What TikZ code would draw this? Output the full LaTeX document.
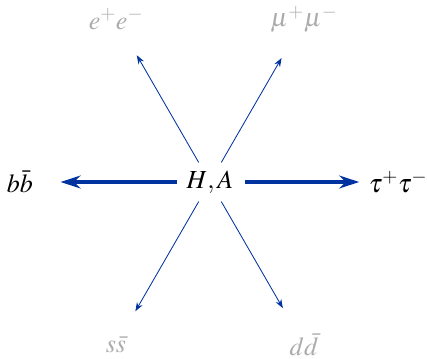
\documentclass[tikz,border=0pt]{standalone}
\usepackage{amsmath}
\usepackage{mathptmx}
\usepackage{tikz}
\usetikzlibrary{arrows.meta}

\definecolor{chanblue}{RGB}{0,51,160}
\definecolor{fadegray}{RGB}{172,172,172}

\begin{document}
\begin{tikzpicture}[
  x=0.025cm, y=0.025cm,
  lbl/.style={font=\fontsize{18.5}{22}\selectfont, inner sep=0pt},
  weak/.style={lbl, text=fadegray},
  bigarr/.style={-{Stealth[length=5mm, width=3.2mm]}, line width=3pt, draw=chanblue},
  smallarr/.style={-{Stealth[length=2.2mm, width=1.6mm]}, line width=0.6pt, draw=chanblue}
]
  \useasboundingbox (-210,-176) rectangle (217,182);
  \node[lbl] (ha) at (0,0) {$H,A$};
  \node[lbl] (bb) at (180:190) {$b\bar{b}$};
  \node[lbl] (tautau) at (0:188) {$\boldsymbol{\tau}^{\boldsymbol{+}}\boldsymbol{\tau}^{\boldsymbol{-}}$};
  \node[weak] (ee) at (120:188) {$e^+e^-$};
  \node[weak] (mumu) at (60:188) {$\mu^+\mu^-$};
  \node[weak] (ss) at (240:188) {$s\bar{s}$};
  \node[weak] (dd) at (300:188) {$d\bar{d}$};
  \draw[bigarr, shorten <=0.24cm, shorten >=0.68cm] (ha) -- (bb);
  \draw[bigarr, shorten <=0.29cm, shorten >=0.23cm] (ha) -- (tautau);
  \draw[smallarr, shorten <=0.23cm, shorten >=0.73cm] (ha) -- (ee);
  \draw[smallarr, shorten <=0.23cm, shorten >=0.73cm] (ha) -- (mumu);
  \draw[smallarr, shorten <=0.23cm, shorten >=0.73cm] (ha) -- (ss);
  \draw[smallarr, shorten <=0.23cm, shorten >=0.73cm] (ha) -- (dd);
\end{tikzpicture}
\end{document}
